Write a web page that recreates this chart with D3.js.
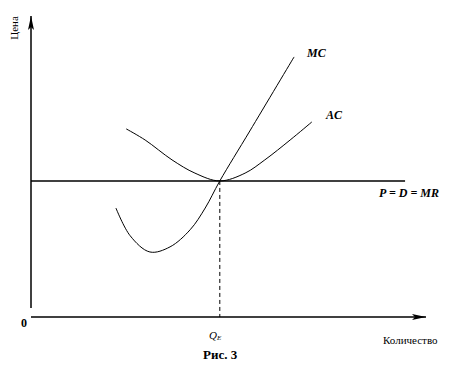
<!DOCTYPE html>
<html><head><meta charset="utf-8">
<script src="https://cdn.jsdelivr.net/npm/d3@7"></script>
<style>body{margin:0;background:#fff}svg{display:block}</style>
</head><body>
<script>
// Data (quantity, price in arbitrary units 0..100)
const mcQ = [21.5, 25.1, 30.1, 35.2, 40.3, 44.1, 47.8, 55.4, 66.6];
const mcP = [36.2, 27.0, 21.6, 23.3, 29.0, 36.2, 45.2, 61.8, 86.4];
const acQ = [24.1, 28.9, 35.7, 41.5, 47.8, 54.2, 59.2, 65.6, 71.1];
const acP = [62.5, 58.8, 52.2, 47.8, 45.2, 47.8, 52.2, 58.8, 64.8];
const priceLevel = 45.2;
const priceLineEnd = 94.7;
const qE = 47.8;
const yAxisStart = 3;

const W = 468, H = 369;
const FONT = "'Liberation Serif', 'Times New Roman', serif";
const svg = d3.select("body").append("svg").attr("width", W).attr("height", H)
  .attr("font-family", FONT);
const x = d3.scaleLinear().domain([0, 100]).range([31, 426]);
const y = d3.scaleLinear().domain([0, 100]).range([317, 16]);

const defs = svg.append("defs");
defs.append("marker").attr("id","arr").attr("viewBox","0 0 14 8").attr("refX",14).attr("refY",4)
  .attr("markerWidth",14).attr("markerHeight",8).attr("markerUnits","userSpaceOnUse").attr("orient","auto")
  .append("path").attr("d","M0,1 L14,4 L0,7 L3,4 Z").attr("fill","#000");

// axes
svg.append("line").attr("x1", x(0)).attr("y1", y(yAxisStart)).attr("x2", x(0)).attr("y2", y(100))
  .attr("stroke","#000").attr("stroke-width",1.5).attr("marker-end","url(#arr)");
svg.append("line").attr("x1", x(0)).attr("y1", y(0)).attr("x2", x(100)).attr("y2", y(0))
  .attr("stroke","#000").attr("stroke-width",1.5).attr("marker-end","url(#arr)");

// price line
svg.append("line").attr("x1", x(0)).attr("y1", y(priceLevel)).attr("x2", x(priceLineEnd)).attr("y2", y(priceLevel))
  .attr("stroke","#000").attr("stroke-width",1.5);

// dashed Qe
svg.append("line").attr("x1", x(qE)).attr("y1", y(priceLevel)).attr("x2", x(qE)).attr("y2", y(0))
  .attr("stroke","#000").attr("stroke-width",1).attr("stroke-dasharray","4,3");

const line = d3.line().x(d => x(d[0])).y(d => y(d[1])).curve(d3.curveCatmullRom.alpha(0.5));
svg.append("path").datum(mcQ.map((q,i)=>[q, mcP[i]])).attr("d", line)
  .attr("fill","none").attr("stroke","#000").attr("stroke-width",1);
svg.append("path").datum(acQ.map((q,i)=>[q, acP[i]])).attr("d", line)
  .attr("fill","none").attr("stroke","#000").attr("stroke-width",1);

// labels
const lbl = (tx, ty, s, size, bold, ital) => svg.append("text").attr("x",tx).attr("y",ty)
  .attr("font-size",size).attr("font-weight",bold?"bold":"normal").attr("font-style",ital?"italic":"normal")
  .attr("fill","#000").text(s);
lbl(307, 57, "MC", 12, true, true);
lbl(326, 119, "AC", 12, true, true);
lbl(379, 197, "P = D = MR", 12, true, true);
lbl(21, 327, "0", 12, true, false);
const qt = svg.append("text").attr("x",209).attr("y",339).attr("font-size",11).attr("font-style","italic");
qt.append("tspan").text("Q");
qt.append("tspan").attr("font-size",7).attr("dy",1).text("E");
lbl(203, 359, "Рис. 3", 13, true, false);
lbl(383, 344, "Количество", 11, false, false);
svg.append("text").attr("transform","translate(18,28) rotate(-90)").attr("text-anchor","middle")
  .attr("font-size",11).text("Цена");
</script>
</body></html>
